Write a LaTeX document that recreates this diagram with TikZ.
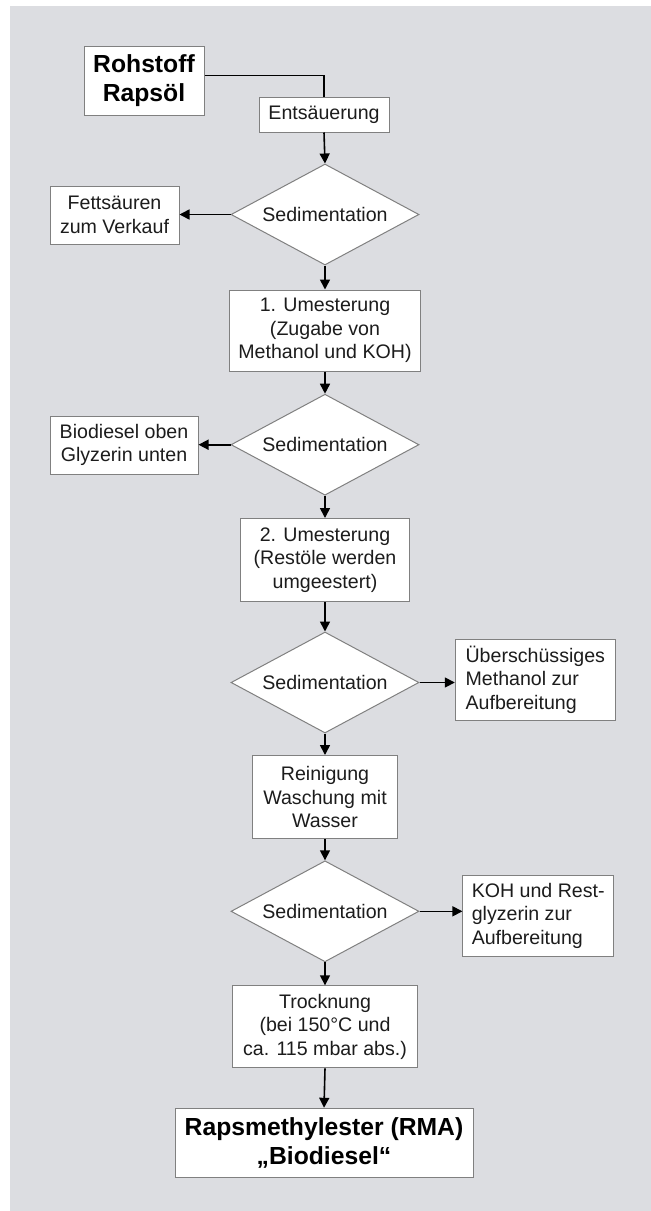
\documentclass[tikz,border=0pt]{standalone}
\usepackage{fontspec}
\setmainfont{Liberation Sans}
\usetikzlibrary{shapes.geometric,arrows.meta}
\definecolor{panelgray}{RGB}{220,221,225}
\definecolor{boxline}{RGB}{128,128,128}
\definecolor{inkgray}{RGB}{28,28,28}
\tikzset{
  wh/.style 2 args={minimum width=#1pt,minimum height=#2pt},
  stepbox/.style={draw=boxline,fill=white,line width=1pt,inner sep=0pt,align=center,
    text=inkgray,font=\fontsize{19.6}{23.5}\selectfont},
  titlebox/.style={stepbox,text=black,font=\bfseries\fontsize{24.7}{29}\selectfont},
  decision/.style={diamond,draw=boxline,fill=white,line width=1pt,inner sep=0pt,aspect=1.87,
    text=inkgray,font=\fontsize{19.6}{23.5}\selectfont,minimum width=188pt,minimum height=101pt},
  flow/.style={line width=1.6pt,-{Triangle[length=10pt,width=10pt]}}
}
\begin{document}
\begin{tikzpicture}[x=1pt,y=-1pt]
\useasboundingbox (0,0) rectangle (651,1211);
\fill[panelgray] (10,6) rectangle (651,1211);
% main column
\node[titlebox,wh={120}{69}] (rohstoff) at (144,80.5) {Rohstoff\\Rapsöl};
\node[stepbox,wh={130}{35}] (entsaeuerung) at (324,114.5) {Entsäuerung};
\node[decision] (sed1) at (325,214.5) {Sedimentation};
\node[stepbox,wh={191}{81}] (umest1) at (325,330.5) {1. Umesterung\\(Zugabe von\\Methanol und KOH)};
\node[decision] (sed2) at (325,444.7) {Sedimentation};
\node[stepbox,wh={169}{83}] (umest2) at (325,560) {2. Umesterung\\(Restöle werden\\umgeestert)};
\node[decision] (sed3) at (325,682.5) {Sedimentation};
\node[stepbox,wh={145}{83}] (reinigung) at (325,797) {Reinigung\\Waschung mit\\Wasser};
\node[decision] (sed4) at (325,911.3) {Sedimentation};
\node[stepbox,wh={185}{82}] (trocknung) at (325,1026.8) {Trocknung\\(bei 150°C und\\ca. 115 mbar abs.)};
\node[titlebox,wh={298}{69.4}] (rma) at (324,1143) {Rapsmethylester (RMA)\\„Biodiesel“};
% side outputs
\node[stepbox,wh={129}{58}] (fettsaeuren) at (114.5,215) {Fettsäuren\\zum Verkauf};
\node[stepbox,wh={148}{58}] (biodiesel) at (124,445) {Biodiesel oben\\Glyzerin unten};
\node[stepbox,align=left,wh={160}{81}] (methanol) at (535.3,679.5) {Überschüssiges\\Methanol zur\\Aufbereitung};
\node[stepbox,align=left,wh={150.6}{80.7}] (restglyzerin) at (538.2,915.7) {KOH und Rest-\\glyzerin zur\\Aufbereitung};
% connectors
\draw[line width=1.3pt] ([yshift=5pt]rohstoff.east) -| (entsaeuerung.north);
\draw[flow] (entsaeuerung.south) -- (sed1.north);
\draw[flow] (sed1.south) -- (umest1.north);
\draw[flow] (umest1.south) -- (sed2.north);
\draw[flow] (sed2.south) -- (umest2.north);
\draw[flow] (umest2.south) -- (sed3.north);
\draw[flow] (sed3.south) -- (reinigung.north);
\draw[flow] (reinigung.south) -- (sed4.north);
\draw[flow] (sed4.south) -- (trocknung.north);
\draw[flow] (trocknung.south) -- (rma.north);
\draw[flow] (sed1.west) -- (sed1.west -| fettsaeuren.east);
\draw[flow] (sed2.west) -- (sed2.west -| biodiesel.east);
\draw[flow] (sed3.east) -- (sed3.east -| methanol.west);
\draw[flow] (sed4.east) -- (sed4.east -| restglyzerin.west);
\end{tikzpicture}
\end{document}
